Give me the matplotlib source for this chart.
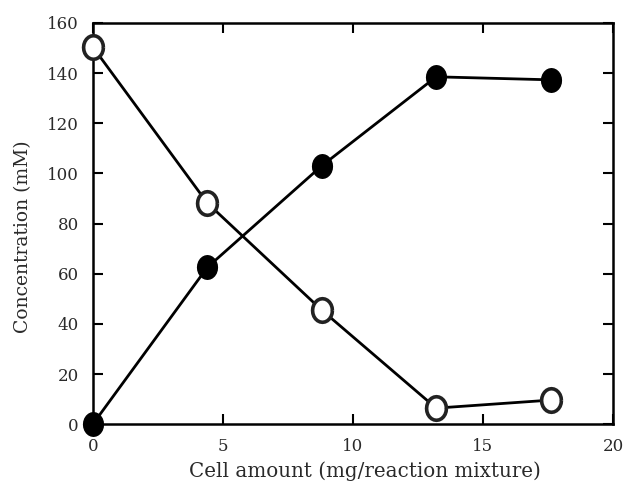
import math
import matplotlib
matplotlib.use('Agg')
import matplotlib.pyplot as plt

cell_amount = [0, 4.4, 8.8, 13.2, 17.6]
filled_conc = [0, 62.5, 103, 138.5, 137.3]
open_conc = [150.4, 88.2, 45.5, 6.4, 9.6]

plt.rcParams['font.family'] = 'DejaVu Serif'

fig = plt.figure(figsize=(6.23, 4.87), dpi=100)
ax = fig.add_axes([0.149, 0.129, 0.835, 0.824])

# slightly tall ellipse marker like the scanned figure
oval = [(0.42 * math.cos(t / 24 * 2 * math.pi), 0.5 * math.sin(t / 24 * 2 * math.pi)) for t in range(25)]

ax.plot(cell_amount, filled_conc, color='black', lw=2, marker=oval,
        markersize=17, markerfacecolor='black', markeredgecolor='black', clip_on=False, zorder=3)
ax.plot(cell_amount, open_conc, color='black', lw=2, marker=oval,
        markersize=17, markerfacecolor='white', markeredgecolor='#222222', markeredgewidth=2.6,
        clip_on=False, zorder=3)

ax.set_xlim(0, 20)
ax.set_ylim(0, 160)
ax.set_xticks([0, 5, 10, 15, 20])
ax.set_yticks(range(0, 161, 20))
ax.tick_params(direction='in', top=True, right=True, length=7, width=1.5,
               labelsize=12, labelcolor='#2a2a2a', pad=10)
for s in ax.spines.values():
    s.set_linewidth(1.8)

ax.set_xlabel('Cell amount (mg/reaction mixture)', fontsize=14.3, color='#2a2a2a', va='center')
ax.set_ylabel('Concentration (mM)', fontsize=13.5, color='#2a2a2a', va='center')
ax.xaxis.set_label_coords(0.523, -0.117)
ax.yaxis.set_label_coords(-0.135, 0.466)

fig.savefig('out.png', dpi=100)
